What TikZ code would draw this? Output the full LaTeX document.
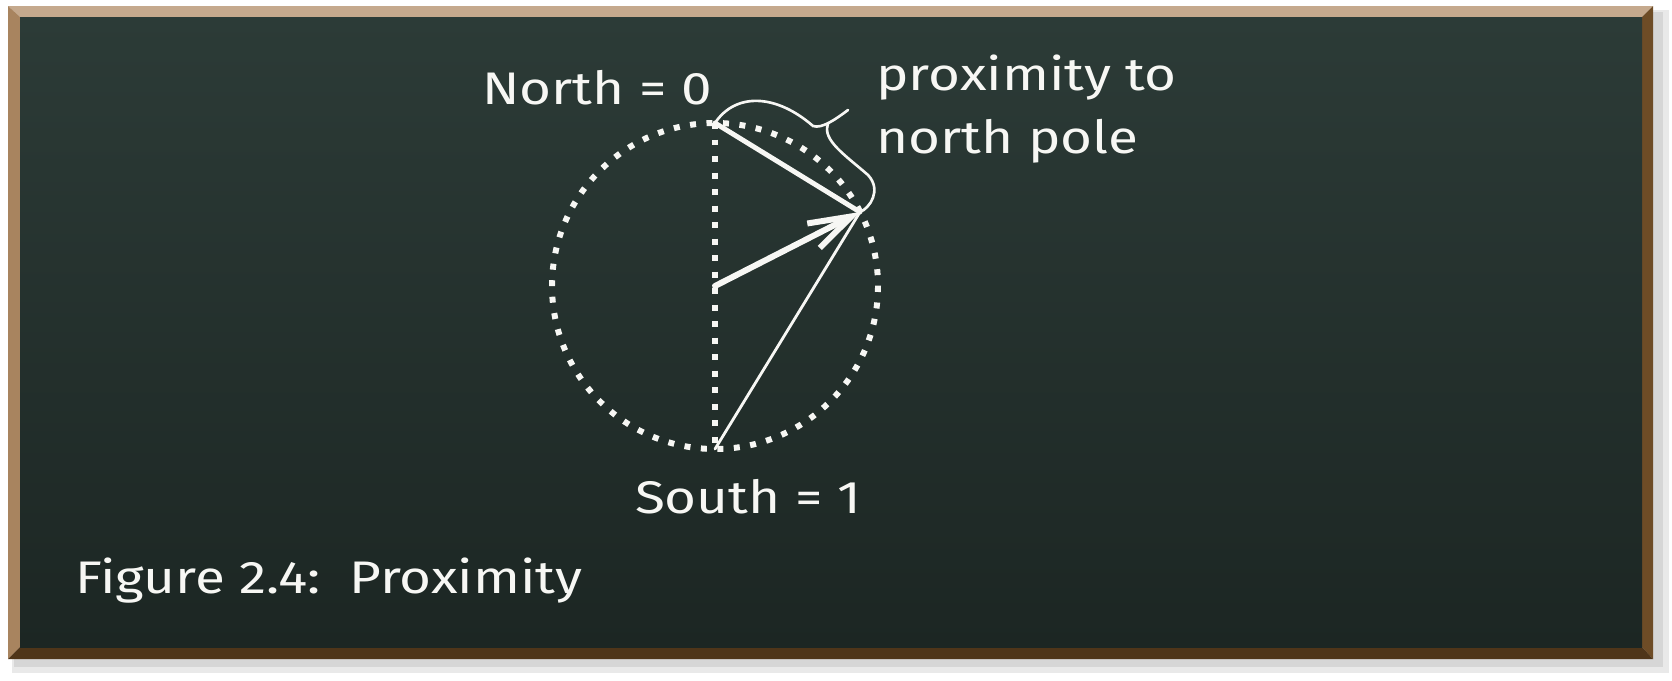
\documentclass[tikz,border=0pt]{standalone}
\usepackage{fontspec}
\setmainfont{Fira Sans}[FakeStretch=1.2]
\usepackage{tikz}
\usetikzlibrary{arrows.meta,calc}
\definecolor{BoardTopC}{HTML}{2C3B37}
\definecolor{BoardBotC}{HTML}{1C2623}
\definecolor{FrameTopC}{HTML}{C5A98D}
\definecolor{FrameLeftC}{HTML}{A8845F}
\definecolor{FrameRightC}{HTML}{6E4C26}
\definecolor{FrameBotC}{HTML}{4F3519}
\definecolor{ShadowC}{HTML}{D6D6D6}
\definecolor{ChalkC}{HTML}{F7F7F4}
\tikzset{
  chalkdots/.style={ChalkC,line width=3.4pt,dash pattern=on 3.4pt off 6pt},
  chalkline/.style={ChalkC,line cap=round},
  chalktext/.style={ChalkC,font=\fontsize{26}{36}\selectfont,inner sep=0pt},
}

\begin{document}
\begin{tikzpicture}[x=0.02cm,y=-0.02cm]
\useasboundingbox (0,0) rectangle (1672,680);

% ---------- board and frame ----------
\fill[ShadowC!55] (12,10) rectangle (1669,673);
\fill[ShadowC] (14,12) rectangle (1663,667);
\fill[FrameTopC]   (8,6) -- (1653,6) -- (1642,17) -- (20,17) -- cycle;
\fill[FrameLeftC]  (8,6) -- (20,17) -- (20,647) -- (8,659) -- cycle;
\fill[FrameRightC] (1653,6) -- (1653,659) -- (1642,647) -- (1642,17) -- cycle;
\fill[FrameBotC]   (8,659) -- (1653,659) -- (1642,647) -- (20,647) -- cycle;
\shade[top color=BoardTopC,bottom color=BoardBotC] (20,17) rectangle (1642,647);

% ---------- circle ----------
\coordinate (O) at (715,286);
\coordinate (N) at (715,123);
\coordinate (S) at (715,449);
\coordinate (P) at (860,212);
\draw[chalkdots] (O) circle (163);
\draw[chalkdots] (N) -- (S);
\draw[chalkline,line width=2.8pt] (N) -- (P);
\draw[chalkline,line width=1.6pt] (S) -- (P);
\draw[chalkline,line width=3.4pt,-{Straight Barb[length=0.85cm,width=0.55cm]}] (O) -- (P);

% ---------- brace ----------
\coordinate (cusp) at (828,124);
\coordinate (tip) at (848,110);
\draw[chalkline,line width=1.5pt] (N) .. controls (735,93) and (775,93) .. (813,126)
  .. controls (822,129) and (836,119) .. (tip);
\draw[chalkline,line width=1.5pt] (cusp) .. controls (822,140) and (845,155) .. (868,175)
  .. controls (882,190) and (870,208) .. (P);

% ---------- labels ----------
\node[chalktext] (north) at (597,88) {North = 0};
\node[chalktext] (south) at (748,497) {South = 1};
\node[chalktext,anchor=west,align=left] (prox) at (876,109) {proximity to\\north pole};
\node[chalktext,anchor=west] (caption) at (75,581) {Figure 2.4:~~Proximity};
\end{tikzpicture}
\end{document}
